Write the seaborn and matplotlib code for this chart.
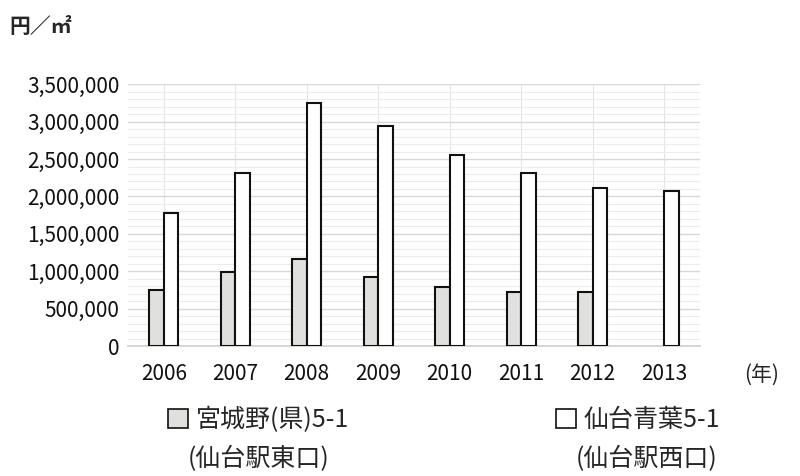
import matplotlib
matplotlib.use("Agg")
import matplotlib.pyplot as plt
import seaborn as sns
import pandas as pd
import numpy as np
from matplotlib.patches import Patch
from matplotlib.ticker import FuncFormatter, MultipleLocator

years = ["2006","2007","2008","2009","2010","2011","2012","2013"]
east = [750000, 990000, 1170000, 920000, 790000, 720000, 720000, np.nan]
west = [1780000, 2320000, 3250000, 2940000, 2550000, 2310000, 2110000, 2070000]
names = ["宮城野(県)5-1", "仙台青葉5-1"]
subnames = ["(仙台駅東口)", "(仙台駅西口)"]

sns.set_theme(style="white")
plt.rcParams['font.family'] = ['Noto Sans CJK JP', 'DejaVu Sans']

df = pd.DataFrame({"year": years*2, "value": east+west,
                   "series": [names[0]]*8 + [names[1]]*8})

fig = plt.figure(figsize=(8, 4.76), dpi=100)
ax = fig.add_axes([0.16, 0.273, 0.715, 0.55])
sns.barplot(data=df, x="year", y="value", hue="series",
            palette=["#e0e0de", "#ffffff"], edgecolor="#111111", linewidth=1.5,
            width=0.4, gap=0, ax=ax, legend=False, zorder=3)
ax.set_ylim(0, 3500000)
ax.yaxis.set_major_locator(MultipleLocator(500000))
ax.yaxis.set_minor_locator(MultipleLocator(100000))
ax.yaxis.set_major_formatter(FuncFormatter(lambda v, p: f"{int(v):,}"))
ax.grid(axis='y', which='major', color='#d8d8d8', lw=1, zorder=0)
ax.grid(axis='y', which='minor', color='#ececec', lw=0.8, zorder=0)
ax.grid(axis='x', color='#e4e4e4', lw=0.8, zorder=0)
ax.set_xlabel(""); ax.set_ylabel("")
for s in ["top", "right", "left"]:
    ax.spines[s].set_visible(False)
ax.spines["bottom"].set_color("#d0d0d0")
ax.tick_params(axis='both', labelsize=15, length=0, pad=12, colors="#111111")
ax.tick_params(axis='y', pad=6)
fig.text(0.012, 0.945, "円／㎡", fontsize=15, fontweight='bold', va='center')
fig.text(0.93, 0.212, "(年)", fontsize=15, va='center')
handles = [Patch(facecolor="#e0e0de", edgecolor="#111111", lw=1.2),
           Patch(facecolor="#ffffff", edgecolor="#111111", lw=1.2)]
for h, n, sub, x in zip(handles, names, subnames, [0.21, 0.695]):
    fig.legend([h], [n], loc='upper left', bbox_to_anchor=(x, 0.145),
               frameon=False, fontsize=18, handlelength=0.8, handleheight=0.8,
               handletextpad=0.3, borderaxespad=0, borderpad=0)
    fig.text(x + 0.025, 0.035, sub, fontsize=18, va='center')
fig.savefig("out.png", dpi=100)
